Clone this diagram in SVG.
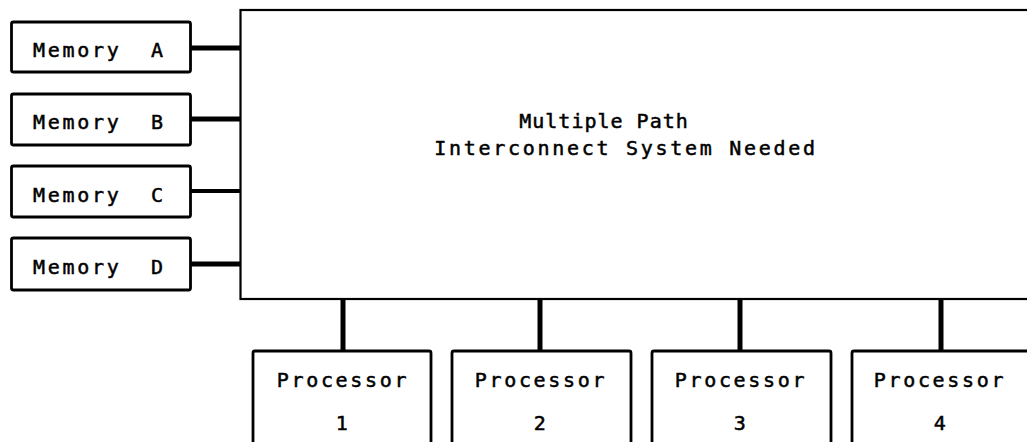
<svg xmlns="http://www.w3.org/2000/svg" width="1027" height="442" viewBox="0 0 1027 442">
<style>
.box{fill:#fff;stroke:#000;stroke-width:2.8}
.main{fill:#fff;stroke:#000;stroke-width:2.2}
.lbl{font-family:"DejaVu Sans Mono","Liberation Mono",monospace;font-size:20px;fill:#000;stroke:#000;stroke-width:0.5;letter-spacing:2.7px}
.conn{stroke:#000;stroke-width:5;fill:none}
</style>
<rect width="1027" height="442" fill="#fff"/>
<g id="connectors">
<line class="conn" x1="191" y1="48" x2="241" y2="48"/>
<line class="conn" x1="191" y1="119" x2="241" y2="119"/>
<line class="conn" x1="191" y1="191" x2="241" y2="191" style="stroke-width:4"/>
<line class="conn" x1="191" y1="264" x2="241" y2="264"/>
<line class="conn" x1="343" y1="299" x2="343" y2="351"/>
<line class="conn" x1="540" y1="299" x2="540" y2="351"/>
<line class="conn" x1="740" y1="299" x2="740" y2="351"/>
<line class="conn" x1="941" y1="299" x2="941" y2="351"/>
</g>
<g id="interconnect">
<rect class="main" x="240.5" y="10" width="800" height="289"/>
<text class="lbl" x="604" y="128" text-anchor="middle" style="letter-spacing:1px">Multiple Path</text>
<text class="lbl" x="626" y="155" text-anchor="middle">Interconnect System Needed</text>
</g>
<g id="memA">
<rect class="box" x="11.5" y="22" width="179" height="50" rx="2"/>
<text class="lbl" x="33" y="57" xml:space="preserve">Memory  A</text>
</g>
<g id="memB">
<rect class="box" x="11.5" y="94" width="179" height="51" rx="2"/>
<text class="lbl" x="33" y="129" xml:space="preserve">Memory  B</text>
</g>
<g id="memC">
<rect class="box" x="11.5" y="166" width="179" height="51" rx="2"/>
<text class="lbl" x="33" y="202" xml:space="preserve">Memory  C</text>
</g>
<g id="memD">
<rect class="box" x="11.5" y="238" width="179" height="52" rx="2"/>
<text class="lbl" x="33" y="274" xml:space="preserve">Memory  D</text>
</g>
<g id="proc1">
<rect class="box" x="253" y="351" width="178" height="110" rx="2"/>
<text class="lbl" x="343" y="387" text-anchor="middle">Processor</text>
<text class="lbl" x="343" y="430" text-anchor="middle">1</text>
</g>
<g id="proc2">
<rect class="box" x="452" y="351" width="179" height="110" rx="2"/>
<text class="lbl" x="541" y="387" text-anchor="middle">Processor</text>
<text class="lbl" x="541" y="430" text-anchor="middle">2</text>
</g>
<g id="proc3">
<rect class="box" x="652" y="351" width="179" height="110" rx="2"/>
<text class="lbl" x="741" y="387" text-anchor="middle">Processor</text>
<text class="lbl" x="741" y="430" text-anchor="middle">3</text>
</g>
<g id="proc4">
<rect class="box" x="852" y="351" width="190" height="110" rx="2"/>
<text class="lbl" x="940" y="387" text-anchor="middle">Processor</text>
<text class="lbl" x="941" y="430" text-anchor="middle">4</text>
</g>
</svg>
